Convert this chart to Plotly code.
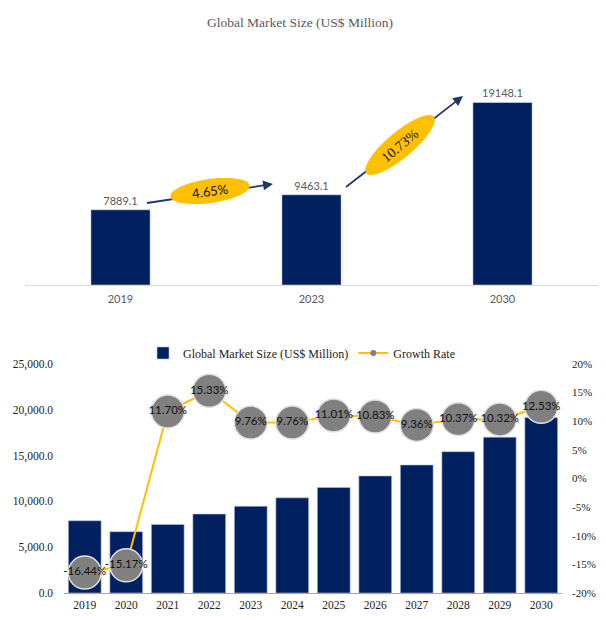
import math
import plotly.graph_objects as go

# the page adds an 8px body margin, so the figure is 16px smaller than the window
W, H = 590, 604
OFF = 8

# top chart data
top_years = ["2019", "2023", "2030"]
top_values = [7889.1, 9463.1, 19148.1]
cagr_labels = ["4.65%", "10.73%"]

# bottom chart data
years = ["2019", "2020", "2021", "2022", "2023", "2024",
         "2025", "2026", "2027", "2028", "2029", "2030"]
market_size = [7889.1, 6692.4, 7475.4, 8621.4, 9463.1, 10386.7,
               11530.3, 12779.1, 13975.3, 15424.6, 17016.4, 19148.1]
growth_rate = [-16.44, -15.17, 11.70, 15.33, 9.76, 9.76,
               11.01, 10.83, 9.36, 10.37, 10.32, 12.53]
pct_ticks = [-0.20, -0.15, -0.10, -0.05, 0.0, 0.05, 0.10, 0.15, 0.20]
pct_labels = ["-20%", "-15%", "-10%", "-5%", "0%", "5%", "10%", "15%", "20%"]

NAVY = "#002060"
GOLD = "#FFC000"
SERIF = "Liberation Serif, Times New Roman, serif"
SANS = "Lato, Open Sans, sans-serif"


def px(x, y):
    # window pixel position -> paper coordinates (margins are zero)
    return (x - OFF) / W, 1 - (y - OFF) / H


def ellipse_path(cx, cy, a, b, deg, n=48):
    t = math.radians(deg)
    pts = []
    for i in range(n):
        u = 2 * math.pi * i / n
        ex = a * math.cos(u)
        ey = b * math.sin(u)
        x = cx + ex * math.cos(t) + ey * math.sin(t)
        y = cy - ex * math.sin(t) + ey * math.cos(t)
        pts.append(px(x, y))
    return "M " + " L ".join(f"{p[0]:.5f},{p[1]:.5f}" for p in pts) + " Z"


fig = go.Figure()

fig.add_trace(go.Bar(
    x=top_years, y=top_values, xaxis="x", yaxis="y",
    marker=dict(color=NAVY), width=0.31,
    text=[f"{v:.1f}" for v in top_values], textposition="outside",
    textfont=dict(family=SANS, size=11, color="#595959"),
    cliponaxis=False, showlegend=False, hoverinfo="skip",
))

fig.add_trace(go.Bar(
    x=years, y=market_size, xaxis="x2", yaxis="y2",
    name="Global Market Size (US$ Million)",
    marker=dict(color=NAVY, line=dict(color="#B4C1DD", width=0.6)),
    width=0.79, showlegend=True,
))

fig.add_trace(go.Scatter(
    x=years, y=[g / 100 for g in growth_rate], xaxis="x2", yaxis="y3",
    mode="lines+markers+text", name="Growth Rate",
    line=dict(color=GOLD, width=2),
    marker=dict(size=33, color="#808080", line=dict(color="#E0E0E0", width=1.5)),
    text=[f"{g:.2f}%" for g in growth_rate], textposition="middle center",
    textfont=dict(family=SANS, size=11.5, color="#111111"),
    cliponaxis=False, showlegend=False,
))

# legend stand-in so the marker stays small in the legend
fig.add_trace(go.Scatter(
    x=[None], y=[None], xaxis="x2", yaxis="y3", mode="lines+markers",
    name="Growth Rate", line=dict(color=GOLD, width=2),
    marker=dict(size=6, color="#808080"), showlegend=True,
))

shapes = []
annotations = []

# CAGR callouts: shaft, ellipse, then arrow head
callouts = [
    # tail, head, ellipse centre, half axes, angle, font
    ((147, 203), (273, 184), (210, 191), 40, 12, 8, SANS, 13),
    ((346, 187), (463, 96), (400, 145), 44, 13, 40, SERIF, 14),
]
for (tail, head, ctr, a, b, ang, fam, fs), lab in zip(callouts, cagr_labels):
    dx, dy = head[0] - tail[0], head[1] - tail[1]
    ln = math.hypot(dx, dy)
    back = (head[0] - dx / ln * 8, head[1] - dy / ln * 8)
    x0, y0 = px(*tail)
    x1, y1 = px(*back)
    shapes.append(dict(type="line", xref="paper", yref="paper",
                       x0=x0, y0=y0, x1=x1, y1=y1,
                       line=dict(color="#1F3864", width=1.8)))
    shapes.append(dict(type="path", xref="paper", yref="paper",
                       path=ellipse_path(ctr[0], ctr[1], a, b, ang),
                       fillcolor=GOLD, line=dict(width=0)))
    hx, hy = px(*head)
    annotations.append(dict(xref="paper", yref="paper", x=hx, y=hy,
                            ax=-dx / ln * 10, ay=-dy / ln * 10, axref="pixel", ayref="pixel",
                            showarrow=True, arrowhead=2, arrowsize=1.1,
                            arrowwidth=1.8, arrowcolor="#1F3864", text=""))
    cx, cy = px(*ctr)
    annotations.append(dict(xref="paper", yref="paper", x=cx, y=cy,
                            xanchor="center", yanchor="middle",
                            text=lab, showarrow=False, textangle=-ang,
                            font=dict(family=fam, size=fs, color="#111111")))

fig.update_layout(
    width=W, height=H, autosize=False,
    margin=dict(l=0, r=0, t=0, b=0, autoexpand=False),
    paper_bgcolor="white", plot_bgcolor="white",
    title=dict(text="Global Market Size (US$ Million)", x=px(300, 0)[0], xanchor="center",
               y=px(0, 22)[1], yanchor="middle",
               font=dict(family=SERIF, size=13.5, color="#595959")),
    bargap=0.2,
    xaxis=dict(domain=[px(25, 0)[0], px(598, 0)[0]], anchor="y", showline=True,
               range=[-0.5, len(top_years) - 0.5],
               linecolor="#D9D9D9", linewidth=1.2, ticks="", automargin=False,
               tickfont=dict(family=SANS, size=11, color="#595959"),
               ticklabelstandoff=4),
    yaxis=dict(domain=[px(0, 285)[1], px(0, 45)[1]], range=[0, 25180], anchor="x",
               visible=False, showgrid=False, automargin=False),
    xaxis2=dict(domain=[px(64, 0)[0], px(562, 0)[0]], anchor="y2", showline=True,
                range=[-0.5, len(years) - 0.5],
                linecolor="#A6A6A6", linewidth=1.2, ticks="", automargin=False,
                tickfont=dict(family=SERIF, size=11.5, color="#222222"),
                ticklabelstandoff=1),
    yaxis2=dict(domain=[px(0, 593)[1], px(0, 364)[1]], range=[0, 25000], anchor="x2",
                dtick=5000, tickformat=",.1f", showgrid=False, zeroline=False,
                tickfont=dict(family=SERIF, size=11.5, color="#222222"),
                ticklabelstandoff=10, automargin=False),
    yaxis3=dict(overlaying="y2", side="right", range=[-0.2, 0.2], anchor="x2",
                tickvals=pct_ticks, ticktext=pct_labels,
                showgrid=False, zeroline=False, automargin=False,
                tickfont=dict(family=SERIF, size=11, color="#222222"),
                ticklabelstandoff=9),
    legend=dict(orientation="h", x=px(143, 0)[0], y=px(0, 353)[1],
                xanchor="left", yanchor="middle",
                font=dict(family=SERIF, size=12, color="#222222"),
                bgcolor="rgba(0,0,0,0)", tracegroupgap=0, itemwidth=30),
    shapes=shapes,
    annotations=annotations,
)

fig.write_html("out.html")
